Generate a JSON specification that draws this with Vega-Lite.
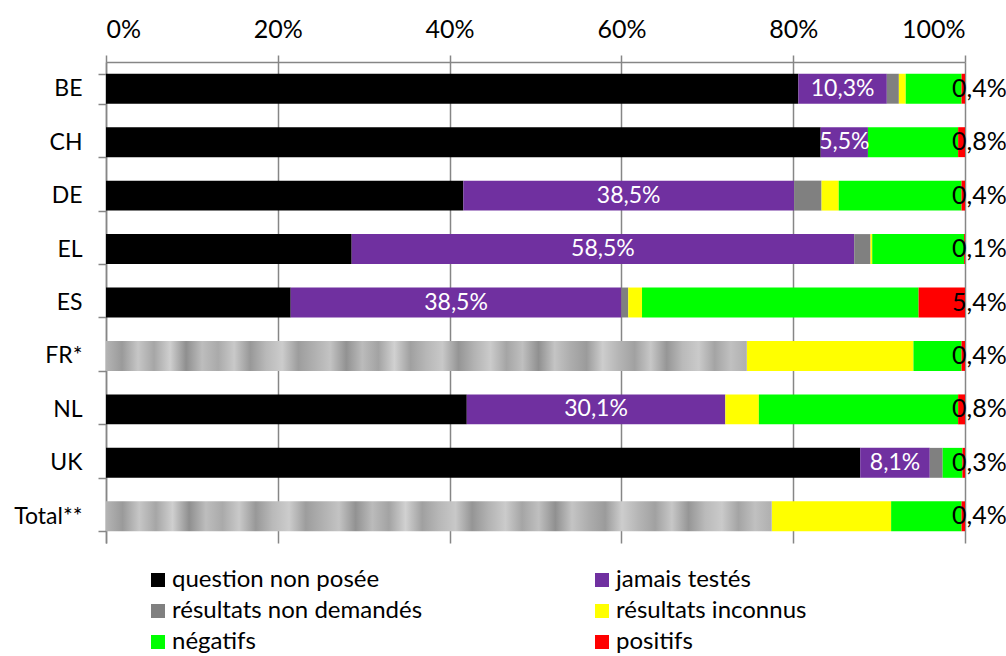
{
  "$schema": "https://vega.github.io/schema/vega-lite/v6.json",
  "width": 859,
  "height": 481,
  "autosize": {"type": "none"},
  "padding": {"left": 106, "top": 62, "right": 41, "bottom": 113},
  "config": {"font": "Lato", "view": {"stroke": null}},
  "data": {
    "values": [
      {"pays": "BE", "cat": "question non posée", "v": 80.6},
      {"pays": "BE", "cat": "jamais testés", "v": 10.3},
      {"pays": "BE", "cat": "résultats non demandés", "v": 1.4},
      {"pays": "BE", "cat": "résultats inconnus", "v": 0.8},
      {"pays": "BE", "cat": "négatifs", "v": 6.5},
      {"pays": "BE", "cat": "positifs", "v": 0.4},
      {"pays": "CH", "cat": "question non posée", "v": 83.2},
      {"pays": "CH", "cat": "jamais testés", "v": 5.5},
      {"pays": "CH", "cat": "négatifs", "v": 10.5},
      {"pays": "CH", "cat": "positifs", "v": 0.8},
      {"pays": "DE", "cat": "question non posée", "v": 41.6},
      {"pays": "DE", "cat": "jamais testés", "v": 38.5},
      {"pays": "DE", "cat": "résultats non demandés", "v": 3.2},
      {"pays": "DE", "cat": "résultats inconnus", "v": 2.0},
      {"pays": "DE", "cat": "négatifs", "v": 14.3},
      {"pays": "DE", "cat": "positifs", "v": 0.4},
      {"pays": "EL", "cat": "question non posée", "v": 28.6},
      {"pays": "EL", "cat": "jamais testés", "v": 58.5},
      {"pays": "EL", "cat": "résultats non demandés", "v": 1.9},
      {"pays": "EL", "cat": "résultats inconnus", "v": 0.2},
      {"pays": "EL", "cat": "négatifs", "v": 10.7},
      {"pays": "EL", "cat": "positifs", "v": 0.1},
      {"pays": "ES", "cat": "question non posée", "v": 21.5},
      {"pays": "ES", "cat": "jamais testés", "v": 38.5},
      {"pays": "ES", "cat": "résultats non demandés", "v": 0.8},
      {"pays": "ES", "cat": "résultats inconnus", "v": 1.6},
      {"pays": "ES", "cat": "négatifs", "v": 32.2},
      {"pays": "ES", "cat": "positifs", "v": 5.4},
      {"pays": "FR*", "cat": "non précisé", "v": 74.6},
      {"pays": "FR*", "cat": "résultats inconnus", "v": 19.4},
      {"pays": "FR*", "cat": "négatifs", "v": 5.6},
      {"pays": "FR*", "cat": "positifs", "v": 0.4},
      {"pays": "NL", "cat": "question non posée", "v": 42.0},
      {"pays": "NL", "cat": "jamais testés", "v": 30.1},
      {"pays": "NL", "cat": "résultats inconnus", "v": 3.9},
      {"pays": "NL", "cat": "négatifs", "v": 23.2},
      {"pays": "NL", "cat": "positifs", "v": 0.8},
      {"pays": "UK", "cat": "question non posée", "v": 87.8},
      {"pays": "UK", "cat": "jamais testés", "v": 8.1},
      {"pays": "UK", "cat": "résultats non demandés", "v": 1.5},
      {"pays": "UK", "cat": "négatifs", "v": 2.3},
      {"pays": "UK", "cat": "positifs", "v": 0.3},
      {"pays": "Total**", "cat": "non précisé", "v": 77.5},
      {"pays": "Total**", "cat": "résultats inconnus", "v": 13.9},
      {"pays": "Total**", "cat": "négatifs", "v": 8.2},
      {"pays": "Total**", "cat": "positifs", "v": 0.4}
    ]
  },
  "transform": [
    {"calculate": "indexof(['non précisé','question non posée','jamais testés','résultats non demandés','résultats inconnus','négatifs','positifs'], datum.cat)", "as": "ord"},
    {"stack": "v", "groupby": ["pays"], "sort": [{"field": "ord", "order": "ascending"}], "as": ["x0", "x1"]},
    {"calculate": "(datum.x0 + datum.x1) / 2", "as": "xm"},
    {"calculate": "replace(format(datum.v, '.1f'), '.', ',') + '%'", "as": "lab"}
  ],
  "encoding": {
    "y": {
      "field": "pays",
      "type": "nominal",
      "sort": ["BE", "CH", "DE", "EL", "ES", "FR*", "NL", "UK", "Total**"],
      "scale": {"paddingInner": 0.44, "paddingOuter": 0.22},
      "axis": {
        "title": null,
        "orient": "left",
        "domainColor": "#868686",
        "domainWidth": 1.5,
        "tickColor": "#868686",
        "tickWidth": 1.5,
        "tickSize": 8,
        "tickBand": "extent",
        "labelFontSize": 23,
        "labelColor": "#000000",
        "labelPadding": 16
      }
    }
  },
  "layer": [
    {
      "transform": [{"filter": "datum.cat !== 'non précisé'"}],
      "mark": {"type": "bar"},
      "encoding": {
        "x": {
          "field": "x0",
          "type": "quantitative",
          "scale": {"domain": [0, 100], "nice": false},
          "axis": {
            "title": null,
            "orient": "top",
            "values": [0, 20, 40, 60, 80, 100],
            "labelExpr": "datum.value + '%'",
            "grid": true,
            "gridColor": "#868686",
            "gridWidth": 1.5,
            "domainColor": "#868686",
            "domainWidth": 1.5,
            "tickColor": "#868686",
            "tickWidth": 1.5,
            "tickSize": 7,
            "labelFontSize": 25,
            "labelColor": "#000000",
            "labelPadding": 13
          }
        },
        "x2": {"field": "x1"},
        "color": {
          "field": "cat",
          "type": "nominal",
          "scale": {
            "domain": ["question non posée", "jamais testés", "résultats non demandés", "résultats inconnus", "négatifs", "positifs"],
            "range": ["#000000", "#7030A0", "#808080", "#FFFF00", "#00FF00", "#FF0000"]
          },
          "legend": {
            "title": null,
            "orient": "none",
            "legendX": 40,
            "legendY": 506,
            "direction": "horizontal",
            "columns": 2,
            "columnPadding": 167,
            "rowPadding": 7,
            "padding": 0,
            "symbolType": "square",
            "symbolSize": 196,
            "symbolStrokeWidth": 0,
            "labelFontSize": 24,
            "labelColor": "#000000",
            "labelLimit": 500,
            "labelOffset": 2
          }
        }
      }
    },
    {
      "transform": [{"filter": "datum.cat === 'non précisé'"}],
      "mark": {
        "type": "bar",
        "color": {
          "gradient": "linear",
          "x1": 0, "y1": 0, "x2": 1, "y2": 0,
          "stops": [
            {"offset": 0.0, "color": "#b4b4b4"},
            {"offset": 0.025, "color": "#9a9a9a"},
            {"offset": 0.05, "color": "#c6c6c6"},
            {"offset": 0.075, "color": "#a6a6a6"},
            {"offset": 0.1, "color": "#cfcfcf"},
            {"offset": 0.125, "color": "#8f8f8f"},
            {"offset": 0.15, "color": "#bdbdbd"},
            {"offset": 0.175, "color": "#aaaaaa"},
            {"offset": 0.2, "color": "#c9c9c9"},
            {"offset": 0.225, "color": "#989898"},
            {"offset": 0.25, "color": "#b9b9b9"},
            {"offset": 0.275, "color": "#cccccc"},
            {"offset": 0.3, "color": "#9d9d9d"},
            {"offset": 0.325, "color": "#b0b0b0"},
            {"offset": 0.35, "color": "#c3c3c3"},
            {"offset": 0.375, "color": "#929292"},
            {"offset": 0.4, "color": "#bbbbbb"},
            {"offset": 0.425, "color": "#a3a3a3"},
            {"offset": 0.45, "color": "#d1d1d1"},
            {"offset": 0.475, "color": "#a0a0a0"},
            {"offset": 0.5, "color": "#b7b7b7"},
            {"offset": 0.525, "color": "#c8c8c8"},
            {"offset": 0.55, "color": "#959595"},
            {"offset": 0.575, "color": "#b3b3b3"},
            {"offset": 0.6, "color": "#cbcbcb"},
            {"offset": 0.625, "color": "#a5a5a5"},
            {"offset": 0.65, "color": "#bfbfbf"},
            {"offset": 0.675, "color": "#909090"},
            {"offset": 0.7, "color": "#c4c4c4"},
            {"offset": 0.725, "color": "#adadad"},
            {"offset": 0.75, "color": "#9b9b9b"},
            {"offset": 0.775, "color": "#cdcdcd"},
            {"offset": 0.8, "color": "#b5b5b5"},
            {"offset": 0.825, "color": "#a1a1a1"},
            {"offset": 0.85, "color": "#c7c7c7"},
            {"offset": 0.875, "color": "#969696"},
            {"offset": 0.9, "color": "#bababa"},
            {"offset": 0.925, "color": "#cacaca"},
            {"offset": 0.95, "color": "#a4a4a4"},
            {"offset": 0.975, "color": "#c0c0c0"},
            {"offset": 1.0, "color": "#afafaf"}
          ]
        }
      },
      "encoding": {
        "x": {"field": "x0", "type": "quantitative"},
        "x2": {"field": "x1"}
      }
    },
    {
      "transform": [{"filter": "datum.cat === 'jamais testés'"}],
      "mark": {"type": "text", "color": "#ffffff", "fontSize": 23, "baseline": "middle", "align": "center"},
      "encoding": {
        "x": {"field": "xm", "type": "quantitative"},
        "text": {"field": "lab"}
      }
    },
    {
      "transform": [{"filter": "datum.cat === 'positifs'"}],
      "mark": {"type": "text", "color": "#000000", "fontSize": 25, "baseline": "middle", "align": "left", "dx": -13},
      "encoding": {
        "x": {"datum": 100, "type": "quantitative"},
        "text": {"field": "lab"}
      }
    }
  ]
}
